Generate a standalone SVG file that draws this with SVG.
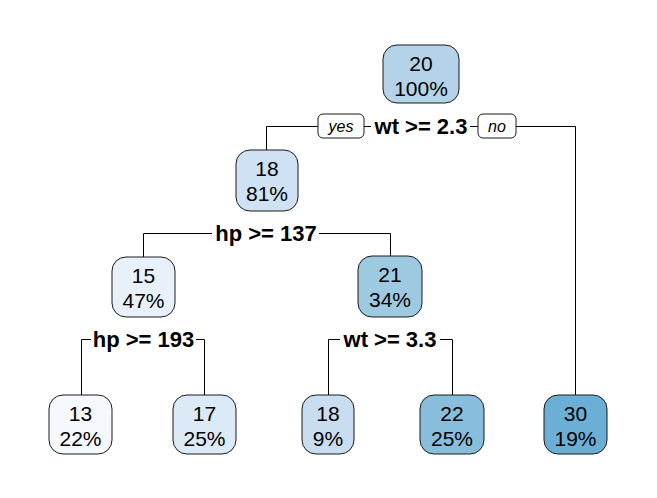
<svg xmlns="http://www.w3.org/2000/svg" width="657" height="498" viewBox="0 0 657 498">
<style>
.box{stroke:#1a1a1a;stroke-width:1}
.nt{font-family:"Liberation Sans",Arial,sans-serif;font-size:21px;text-anchor:middle;fill:#000}
.sl{font-family:"Liberation Sans",Arial,sans-serif;font-size:22px;font-weight:bold;text-anchor:middle;fill:#000}
.yn{font-family:"Liberation Sans",Arial,sans-serif;font-size:16px;font-style:italic;text-anchor:middle;fill:#000}
.ynb{fill:#fff;stroke:#1a1a1a;stroke-width:1}
.edge{fill:none;stroke:#000;stroke-width:1}
</style>
<rect width="657" height="498" fill="#fff"/>
<g id="connectors">
<path class="edge" d="M266.5 150V126.5H318M364 126.5H371M470 126.5H478M516 126.5H575.5V395"/>
<path class="edge" d="M143.5 257V233.5H212M319 233.5H390.5V256"/>
<path class="edge" d="M81.5 395V339.5H91M196 339.5H204.5V395"/>
<path class="edge" d="M328.5 395V339.5H340M440 339.5H452.5V395"/>
</g>
<g id="labels">
<rect class="ynb" x="318" y="114" width="46" height="24" rx="5"/>
<text class="yn" x="341" y="132">yes</text>
<rect class="ynb" x="478" y="114" width="38" height="24" rx="5"/>
<text class="yn" x="497" y="132">no</text>
<text class="sl" x="421" y="134">wt &gt;= 2.3</text>
<text class="sl" x="266" y="241">hp &gt;= 137</text>
<text class="sl" x="143.5" y="347">hp &gt;= 193</text>
<text class="sl" x="390" y="347">wt &gt;= 3.3</text>
</g>
<g id="node-root">
<rect class="box" x="383" y="45" width="76" height="58" rx="14" fill="#b4d3e9"/>
<text class="nt" x="421" y="71">20</text>
<text class="nt" x="421" y="96">100%</text>
</g>
<g id="node-18a">
<rect class="box" x="236" y="150" width="62" height="61" rx="14" fill="#cfe1f2"/>
<text class="nt" x="267" y="176">18</text>
<text class="nt" x="267" y="201">81%</text>
</g>
<g id="node-15">
<rect class="box" x="112" y="257" width="63" height="60" rx="14" fill="#e8f1fa"/>
<text class="nt" x="143.5" y="283">15</text>
<text class="nt" x="143.5" y="308">47%</text>
</g>
<g id="node-21">
<rect class="box" x="358" y="256" width="64" height="61" rx="14" fill="#9ecae1"/>
<text class="nt" x="390" y="282">21</text>
<text class="nt" x="390" y="307">34%</text>
</g>
<g id="node-13">
<rect class="box" x="49" y="395" width="63" height="59" rx="14" fill="#f5f9fe"/>
<text class="nt" x="80.5" y="421">13</text>
<text class="nt" x="80.5" y="446">22%</text>
</g>
<g id="node-17">
<rect class="box" x="173" y="395" width="63" height="59" rx="14" fill="#dce9f6"/>
<text class="nt" x="204.5" y="421">17</text>
<text class="nt" x="204.5" y="446">25%</text>
</g>
<g id="node-18b">
<rect class="box" x="302" y="395" width="52" height="59" rx="14" fill="#c9ddf1"/>
<text class="nt" x="328" y="421">18</text>
<text class="nt" x="328" y="446">9%</text>
</g>
<g id="node-22">
<rect class="box" x="420" y="395" width="64" height="59" rx="14" fill="#88bedc"/>
<text class="nt" x="452" y="421">22</text>
<text class="nt" x="452" y="446">25%</text>
</g>
<g id="node-30">
<rect class="box" x="544" y="395" width="63" height="59" rx="14" fill="#6baed6"/>
<text class="nt" x="575.5" y="421">30</text>
<text class="nt" x="575.5" y="446">19%</text>
</g>
</svg>
